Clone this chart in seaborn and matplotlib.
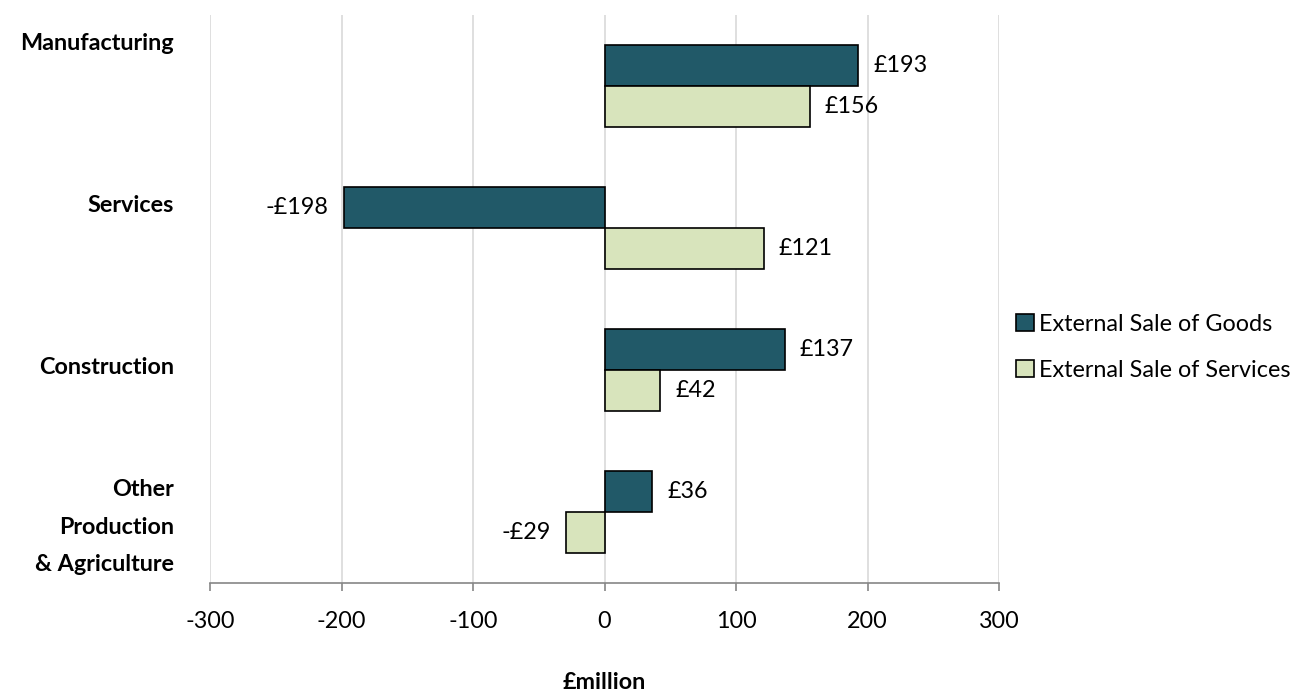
import matplotlib
matplotlib.use("Agg")
import matplotlib.pyplot as plt
import matplotlib.transforms as mtransforms
import seaborn as sns
import pandas as pd

sectors = ["Manufacturing", "Services", "Construction", "Other\nProduction\n& Agriculture"]
series_names = ["External Sale of Goods", "External Sale of Services"]
goods = [193, -198, 137, 36]
services = [156, 121, 42, -29]
x_ticks = [-300, -200, -100, 0, 100, 200, 300]

colors = {"External Sale of Goods": "#215968", "External Sale of Services": "#D8E4BC"}

df = pd.DataFrame({
    "sector": sectors * 2,
    "series": [series_names[0]] * 4 + [series_names[1]] * 4,
    "value": goods + services,
})

sns.set_theme(style="white")
plt.rcParams["font.family"] = ["Lato", "DejaVu Sans"]
plt.rcParams["text.color"] = "black"
plt.rcParams["axes.labelcolor"] = "black"
plt.rcParams["xtick.labelcolor"] = "black"

FS = 16.8

fig = plt.figure(figsize=(12.99, 6.98), dpi=100)
ax = fig.add_axes([210 / 1299, 1 - 583 / 698, 789 / 1299, 568 / 698])

sns.barplot(data=df, y="sector", x="value", hue="series", order=sectors,
            hue_order=series_names, palette=colors, orient="h", width=0.58,
            edgecolor="black", linewidth=1.2, saturation=1, ax=ax, legend=True)

ax.set_xlim(-300, 300)
ax.set_ylim(3.5, -0.5)
ax.set_xticks(x_ticks)
ax.set_xticklabels([str(t) for t in x_ticks], fontsize=FS, color="black")
ax.xaxis.grid(True, color="#D9D9D9", linewidth=1.2)
ax.set_axisbelow(True)
for side in ["top", "right", "left"]:
    ax.spines[side].set_visible(False)
ax.spines["bottom"].set_color("#868686")
ax.spines["bottom"].set_linewidth(1.2)
ax.tick_params(axis="x", bottom=True, length=6, width=1.2, color="#868686",
               pad=14, labelcolor="black")
ax.set_yticks([])
ax.set_ylabel("")
ax.set_xlabel("£million", fontsize=FS, fontweight="bold", labelpad=29, color="black")

# Sector labels, right-aligned to the left of the plot
label_trans = mtransforms.blended_transform_factory(ax.transAxes, ax.transData)
label_y = [-0.296, 0.845, 1.979, 3.106]
for name, yy in zip(sectors, label_y):
    ax.text(-0.046, yy, name, transform=label_trans, ha="right", va="center",
            fontsize=FS, fontweight="bold", linespacing=1.95, color="black")

# Value labels next to bar ends
for container in ax.containers:
    labels = []
    for v in container.datavalues:
        labels.append(f"£{v:.0f}" if v >= 0 else f"-£{abs(v):.0f}")
    ax.bar_label(container, labels=labels, padding=11, fontsize=FS, color="black")

handles, lbls = ax.get_legend_handles_labels()
leg = ax.legend(handles, lbls, loc="center left", bbox_to_anchor=(0.995, 0.415),
                frameon=False, fontsize=FS, handlelength=0.75, handleheight=0.75,
                handletextpad=0.25, labelspacing=1.05)
for t in leg.get_texts():
    t.set_color("black")

fig.savefig("out.png", dpi=100)
